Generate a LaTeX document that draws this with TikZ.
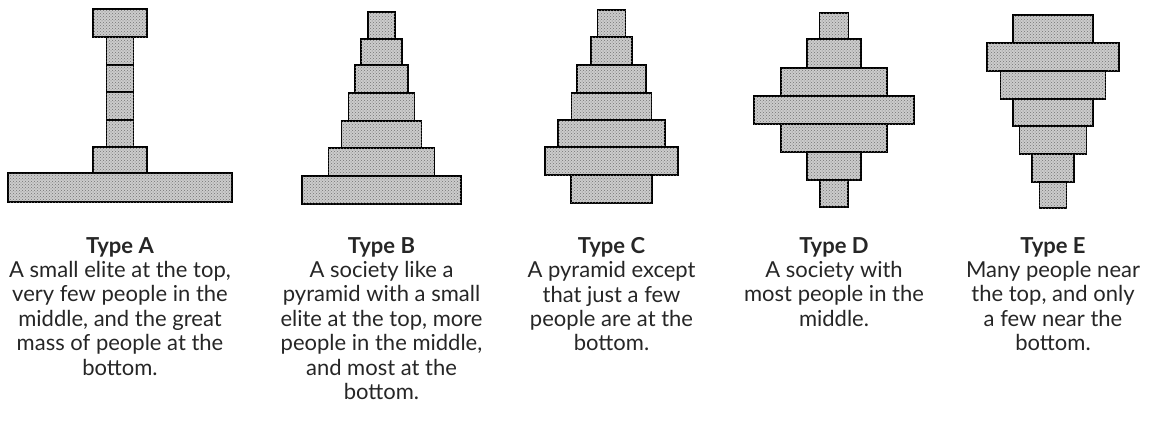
\documentclass[tikz,border=0pt]{standalone}
\usepackage{fontspec}
\setmainfont{Lato}
\usetikzlibrary{patterns}

\begin{document}
\begin{tikzpicture}[x=1pt, y=-1pt,
        layer/.style={draw=black, line width=1.6pt, fill=gray!40,
            postaction={pattern=crosshatch dots, pattern color=black!55}},
        caption/.style={align=center, anchor=north, inner sep=0pt,
            font=\fontsize{22}{24.4}\selectfont, text=black!85}]
        \useasboundingbox (0,0) rectangle (1158,426);

        % Draw layers (width/top/bottom)
        \foreach \w/\t/\b in {54/9/37, 27/37/65, 27/65/92, 27/92/120, 27/120/147, 54/147/173, 224/173/202}
            \draw[layer] (120-\w/2,\t) rectangle (120+\w/2,\b);
        \foreach \w/\t/\b in {27/12/39, 41/39/65, 53/65/93, 66/93/121, 80/121/148, 106/148/176, 159/176/204}
            \draw[layer] (381.5-\w/2,\t) rectangle (381.5+\w/2,\b);
        \foreach \w/\t/\b in {28/10/37, 41/37/65, 69/65/93, 80/93/120, 107/120/147, 133/147/175, 81/175/203}
            \draw[layer] (611.5-\w/2,\t) rectangle (611.5+\w/2,\b);
        \foreach \w/\t/\b in {29/13/39, 54/39/68, 106/68/96, 160/96/124, 106/124/152, 54/152/180, 28/180/207}
            \draw[layer] (834-\w/2,\t) rectangle (834+\w/2,\b);
        \foreach \w/\t/\b in {80/15/43, 132/43/71, 105/71/99, 80/99/126, 67/126/154, 42/154/182, 27/182/208}
            \draw[layer] (1053-\w/2,\t) rectangle (1053+\w/2,\b);

        % Draw captions
        \node[caption] (typeA) at (120,237) {\textbf{Type A}\\A small elite at the top,\\very few people in the\\middle, and the great\\mass of people at the\\bottom.};
        \node[caption] (typeB) at (381.5,237) {\textbf{Type B}\\A society like a\\pyramid with a small\\elite at the top, more\\people in the middle,\\and most at the\\bottom.};
        \node[caption] (typeC) at (611.5,237) {\textbf{Type C}\\A pyramid except\\that just a few\\people are at the\\bottom.};
        \node[caption] (typeD) at (834,237) {\textbf{Type D}\\A society with\\most people in the\\middle.};
        \node[caption] (typeE) at (1053,237) {\textbf{Type E}\\Many people near\\the top, and only\\a few near the\\bottom.};
    \end{tikzpicture}
\end{document}
